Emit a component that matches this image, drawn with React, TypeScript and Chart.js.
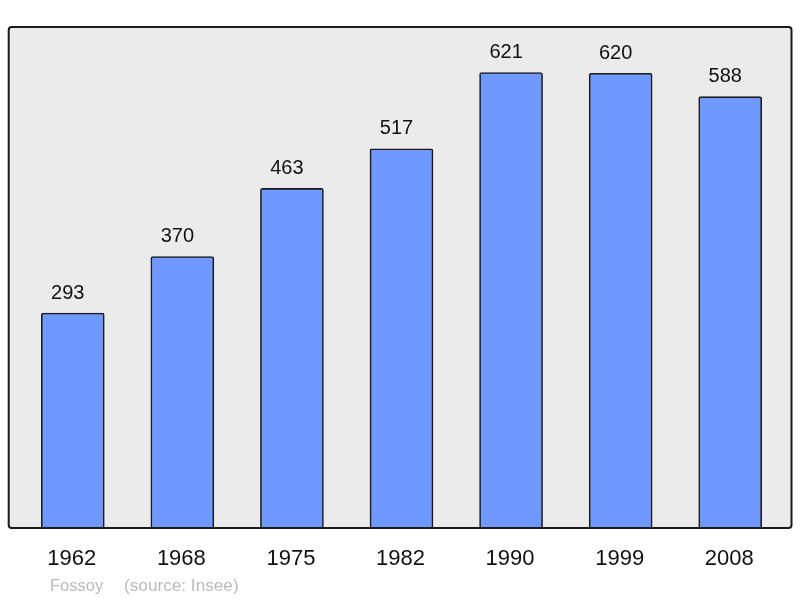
import React, { useEffect, useRef } from "react";
import { Chart, registerables } from "chart.js";

Chart.register(...registerables);

const years: string[] = ["1962", "1968", "1975", "1982", "1990", "1999", "2008"];
const population: number[] = [293, 370, 463, 517, 621, 620, 588];
const yMax = 683;
const townName = "Fossoy";
const sourceText = "(source: Insee)";

const FONT = '"Liberation Sans", Arial, sans-serif';

const decorPlugin = {
  id: "decor",
  beforeDatasetsDraw(chart: any) {
    const { ctx, chartArea } = chart;
    const x0 = chartArea.left - 9.3;
    const x1 = chartArea.right + 6.5;
    ctx.save();
    ctx.fillStyle = "#ebebeb";
    ctx.beginPath();
    (ctx as any).roundRect(x0, chartArea.top, x1 - x0, chartArea.bottom - chartArea.top, 3);
    ctx.fill();
    ctx.restore();
  },
  afterDatasetsDraw(chart: any) {
    const { ctx, chartArea } = chart;
    const x0 = chartArea.left - 9.3;
    const x1 = chartArea.right + 6.5;
    ctx.save();
    ctx.strokeStyle = "#1a1a1a";
    ctx.lineWidth = 2;
    ctx.beginPath();
    (ctx as any).roundRect(x0, chartArea.top, x1 - x0, chartArea.bottom - chartArea.top, 3);
    ctx.stroke();

    // value labels
    const meta = chart.getDatasetMeta(0);
    ctx.fillStyle = "#111111";
    ctx.font = `20px ${FONT}`;
    ctx.textAlign = "center";
    ctx.textBaseline = "alphabetic";
    meta.data.forEach((el: any, i: number) => {
      ctx.fillText(String(population[i]), el.x - 5, el.y - 14.5);
    });

    // year labels
    const xs = chart.scales.x;
    ctx.font = `22px ${FONT}`;
    years.forEach((y, i) => {
      ctx.fillText(y, xs.getPixelForValue(i) - 1, 565);
    });

    // source
    ctx.textAlign = "left";
    ctx.fillStyle = "#bbbbbb";
    ctx.font = `16.5px ${FONT}`;
    ctx.fillText(townName, 50, 590.5);
    ctx.font = `17.2px ${FONT}`;
    ctx.fillText(sourceText, 124, 590.5);
    ctx.restore();
  },
};

export default function App() {
  const ref = useRef<HTMLCanvasElement | null>(null);
  useEffect(() => {
    document.body.style.margin = "0";
    const canvas = ref.current;
    if (!canvas) return;
    const chart = new Chart(canvas, {
      type: "bar",
      data: {
        labels: years,
        datasets: [
          {
            data: population,
            backgroundColor: "#7099ff",
            borderColor: "#1a1a1a",
            borderWidth: 1.6,
            borderRadius: 2,
            borderSkipped: "start",
            barThickness: 63,
          },
        ],
      },
      options: {
        animation: false,
        responsive: false,
        maintainAspectRatio: false,
        layout: { padding: { left: 18, right: 15, top: 27, bottom: 70 } },
        plugins: { legend: { display: false }, tooltip: { enabled: false } },
        scales: {
          x: { display: false, offset: true },
          y: { display: false, min: 0, max: yMax },
        },
      },
      plugins: [decorPlugin],
    });
    return () => chart.destroy();
  }, []);
  return (
    <div style={{ width: 800, height: 598 }}>
      <canvas ref={ref} width={800} height={598} style={{ display: "block" }} />
    </div>
  );
}
